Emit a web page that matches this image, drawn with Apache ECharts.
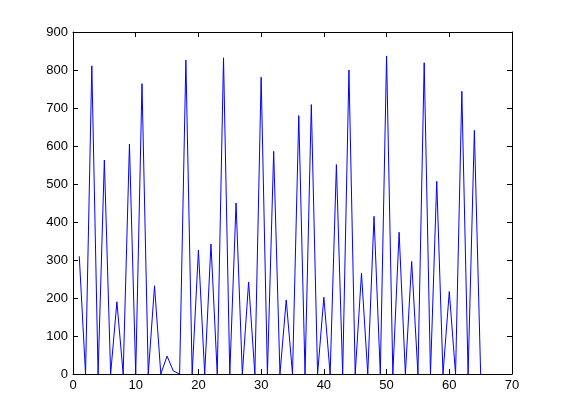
<!DOCTYPE html>
<html>
<head>
<meta charset="utf-8">
<script src="https://cdn.jsdelivr.net/npm/echarts@6/dist/echarts.min.js"></script>
<style>html,body{margin:0;padding:0;background:#fff;}#c{width:561px;height:420px;}</style>
</head>
<body>
<div id="c"></div>
<script>
const xValues = [1,2,3,4,5,6,7,8,9,10,11,12,13,14,15,16,17,18,19,20,21,22,23,24,25,26,27,28,29,30,31,32,33,34,35,36,37,38,39,40,41,42,43,44,45,46,47,48,49,50,51,52,53,54,55,56,57,58,59,60,61,62,63,64,65];
const yValues = [310,0,811,0,563,0,190,0,605,0,764,0,232,0,47,8,0,826,0,326,0,342,0,832,0,450,0,242,0,781,0,586,0,195,0,680,0,709,0,202,0,551,0,800,0,265,0,415,0,837,0,373,0,296,0,819,0,507,0,217,0,744,0,641,0];
const xTicks = [0,10,20,30,40,50,60,70];
const yTicks = [0,100,200,300,400,500,600,700,800,900];

const chart = echarts.init(document.getElementById('c'), null, {renderer:'canvas'});
const font = {fontFamily:'Liberation Sans, Arial, sans-serif', fontSize:13, color:'#000'};
const axisLine = {show:true, onZero:false, lineStyle:{color:'#000', width:1}};
const tick = {show:true, inside:true, length:5, lineStyle:{color:'#000', width:1}};
chart.setOption({
  animation:false,
  backgroundColor:'#fff',
  grid:{left:73, right:49, top:32, bottom:46, containLabel:false},
  xAxis:[
    {type:'value', min:xTicks[0], max:xTicks[xTicks.length-1], interval:10, position:'bottom',
     axisLine:axisLine, axisTick:tick, splitLine:{show:false},
     axisLabel:Object.assign({margin:5}, font)},
    {type:'value', min:xTicks[0], max:xTicks[xTicks.length-1], interval:10, position:'top',
     axisLine:axisLine, axisTick:tick, splitLine:{show:false}, axisLabel:{show:false}}
  ],
  yAxis:[
    {type:'value', min:yTicks[0], max:yTicks[yTicks.length-1], interval:100, position:'left',
     axisLine:axisLine, axisTick:tick, splitLine:{show:false},
     axisLabel:Object.assign({margin:5}, font)},
    {type:'value', min:yTicks[0], max:yTicks[yTicks.length-1], interval:100, position:'right',
     axisLine:axisLine, axisTick:tick, splitLine:{show:false}, axisLabel:{show:false}}
  ],
  series:[{
    type:'line', xAxisIndex:0, yAxisIndex:0,
    data:xValues.map((x,i)=>[x, yValues[i]]),
    showSymbol:false, symbol:'none',
    lineStyle:{color:'#0000ff', width:1},
    itemStyle:{color:'#0000ff'}
  }]
});
</script>
</body>
</html>
